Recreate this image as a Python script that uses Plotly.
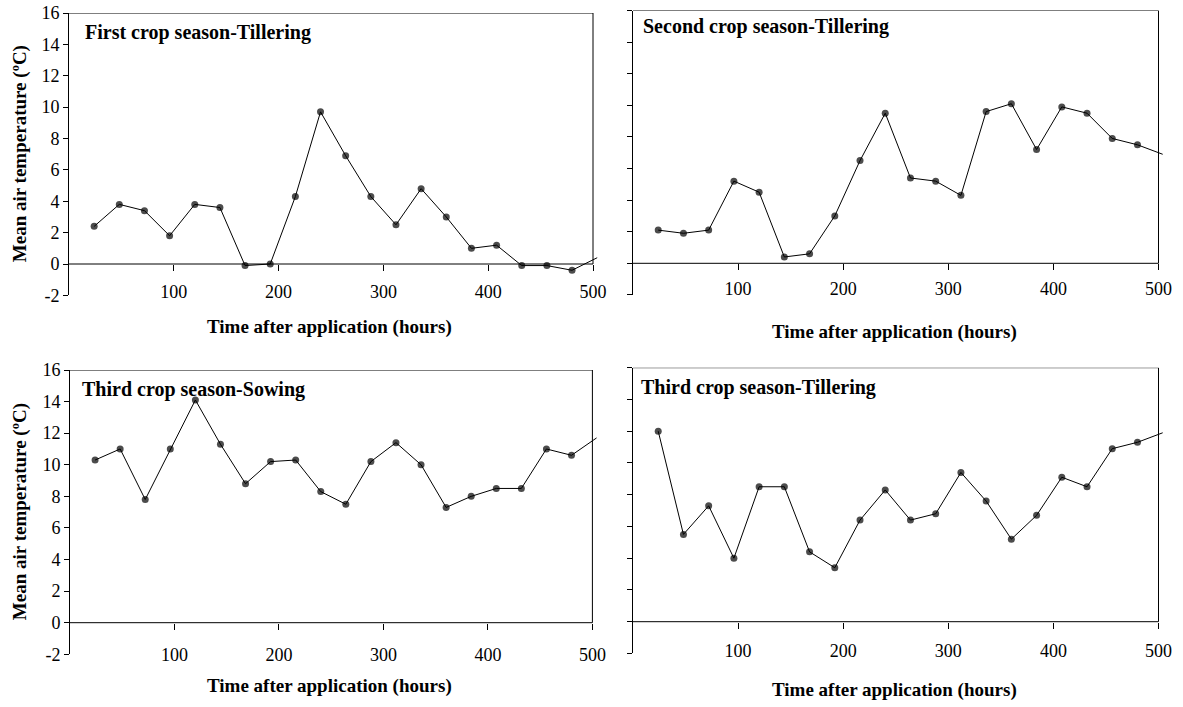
import plotly.graph_objects as go

# ---------------- data ----------------
hours = [24, 48, 72, 96, 120, 144, 168, 192, 216, 240, 264, 288, 312, 336, 360,
         384, 408, 432, 456, 480, 504]

first_tillering = [2.4, 3.8, 3.4, 1.8, 3.8, 3.6, -0.1, 0.0, 4.3, 9.7, 6.9, 4.3, 2.5,
                   4.8, 3.0, 1.0, 1.2, -0.1, -0.1, -0.4, 0.4]
second_tillering = [2.1, 1.9, 2.1, 5.2, 4.5, 0.4, 0.6, 3.0, 6.5, 9.5, 5.4, 5.2, 4.3,
                    9.6, 10.1, 7.2, 9.9, 9.5, 7.9, 7.5, 6.9]
third_sowing = [10.3, 11.0, 7.8, 11.0, 14.1, 11.3, 8.8, 10.2, 10.3, 8.3, 7.5, 10.2, 11.4,
                10.0, 7.3, 8.0, 8.5, 8.5, 11.0, 10.6, 11.7]
third_tillering = [12.0, 5.5, 7.3, 4.0, 8.5, 8.5, 4.4, 3.4, 6.4, 8.3, 6.4, 6.8, 9.4,
                   7.6, 5.2, 6.7, 9.1, 8.5, 10.9, 11.3, 11.9]

panel_titles = ["First crop season-Tillering", "Second crop season-Tillering",
                "Third crop season-Sowing", "Third crop season-Tillering"]
x_title = "Time after application (hours)"
y_title = "Mean air temperature (ºC)"

x_tickvals = [100, 200, 300, 400, 500]
x_ticktext = ["100", "200", "300", "400", "500"]
y_tickvals = [-2, 0, 2, 4, 6, 8, 10, 12, 14, 16]
y_ticktext = ["-2", "0", "2", "4", "6", "8", "10", "12", "14", "16"]

# ---------------- layout geometry (pixels) ----------------
W, H = 1183, 707
FONT = "Liberation Serif, Times New Roman, serif"

# x0: pixel of x=0, x500: pixel of x=500, top: pixel of y=16, zero: pixel of y=0
panels = [
    dict(series=first_tillering, x0=69, x500=593, top=13, zero=264, labels=True,
         title_xy=(83, 33), xt_xy=(329, 327), so=5),
    dict(series=second_tillering, x0=633, x500=1158.5, top=10.5, zero=263.3, labels=False,
         title_xy=(641, 27), xt_xy=(894, 332), so=3),
    dict(series=third_sowing, x0=70, x500=592.4, top=370, zero=622.7, labels=True,
         title_xy=(80, 389), xt_xy=(329, 686), so=10),
    dict(series=third_tillering, x0=633, x500=1158.5, top=367.7, zero=621.7, labels=False,
         title_xy=(639, 387), xt_xy=(894, 690), so=7),
]

XMAX = 505

fig = go.Figure()
shapes = []
annotations = []

for i, p in enumerate(panels):
    sfx = "" if i == 0 else str(i + 1)
    ppu_x = (p["x500"] - p["x0"]) / 500.0
    right_px = p["x0"] + XMAX * ppu_x
    ppu_y = (p["zero"] - p["top"]) / 16.0
    bottom_px = p["zero"] + 2 * ppu_y

    n = len(hours)
    fig.add_trace(go.Scatter(
        x=hours, y=p["series"], mode="lines+markers",
        line=dict(color="black", width=1),
        marker=dict(color="black", size=[7] * (n - 1) + [0], line=dict(width=0)),
        xaxis="x" + sfx, yaxis="y" + sfx, showlegend=False, hoverinfo="x+y",
    ))

    fig.layout["xaxis" + sfx] = dict(
        domain=[p["x0"] / W, right_px / W], range=[0, XMAX],
        anchor="free", position=1 - p["zero"] / H, automargin=False,
        showline=False, showgrid=False, zeroline=False,
        ticks="outside", ticklen=6, tickwidth=1, tickcolor="black",
        tickvals=x_tickvals, ticktext=x_ticktext,
        tickfont=dict(family=FONT, size=18, color="black"),
        ticklabelstandoff=p["so"],
    )
    fig.layout["yaxis" + sfx] = dict(
        domain=[1 - bottom_px / H, 1 - p["top"] / H], range=[-2, 16],
        anchor="x" + sfx, automargin=False,
        showline=True, linecolor="black", linewidth=1,
        showgrid=False, zeroline=False,
        ticks="outside", ticklen=5, tickwidth=1, tickcolor="black",
        tickvals=y_tickvals, ticktext=y_ticktext,
        showticklabels=p["labels"],
        tickfont=dict(family=FONT, size=18, color="black"),
    )

    xr, yr = "x" + sfx, "y" + sfx
    line = dict(color="black", width=1)
    shapes.append(dict(type="line", xref=xr, yref=yr, x0=0, x1=500, y0=0, y1=0, line=line))
    shapes.append(dict(type="line", xref=xr, yref=yr, x0=0, x1=500, y0=16, y1=16, line=line))
    shapes.append(dict(type="line", xref=xr, yref=yr, x0=500, x1=500, y0=0, y1=16, line=line))

    tx, ty = p["title_xy"]
    annotations.append(dict(text="<b>%s</b>" % panel_titles[i], xref="paper", yref="paper",
                            x=tx / W, y=1 - ty / H, xanchor="left", yanchor="middle",
                            showarrow=False, font=dict(family=FONT, size=20, color="black")))
    ax, ay = p["xt_xy"]
    annotations.append(dict(text="<b>%s</b>" % x_title, xref="paper", yref="paper",
                            x=ax / W, y=1 - ay / H, xanchor="center", yanchor="middle",
                            showarrow=False, font=dict(family=FONT, size=19, color="black")))
    if p["labels"]:
        annotations.append(dict(text="<b>%s</b>" % y_title, xref="paper", yref="paper",
                                x=20 / W, y=1 - ((p["top"] + bottom_px) / 2) / H,
                                xanchor="center", yanchor="middle", textangle=-90,
                                showarrow=False, font=dict(family=FONT, size=19, color="black")))

fig.update_layout(
    width=W, height=H, autosize=False,
    margin=dict(l=0, r=0, t=0, b=0, pad=0),
    paper_bgcolor="white", plot_bgcolor="white",
    font=dict(family=FONT, size=18, color="black"),
    shapes=shapes, annotations=annotations,
    showlegend=False,
)

fig.write_html("out.html", config={"displayModeBar": False},
               post_script="document.body.style.margin='0';document.body.style.padding='0';")
